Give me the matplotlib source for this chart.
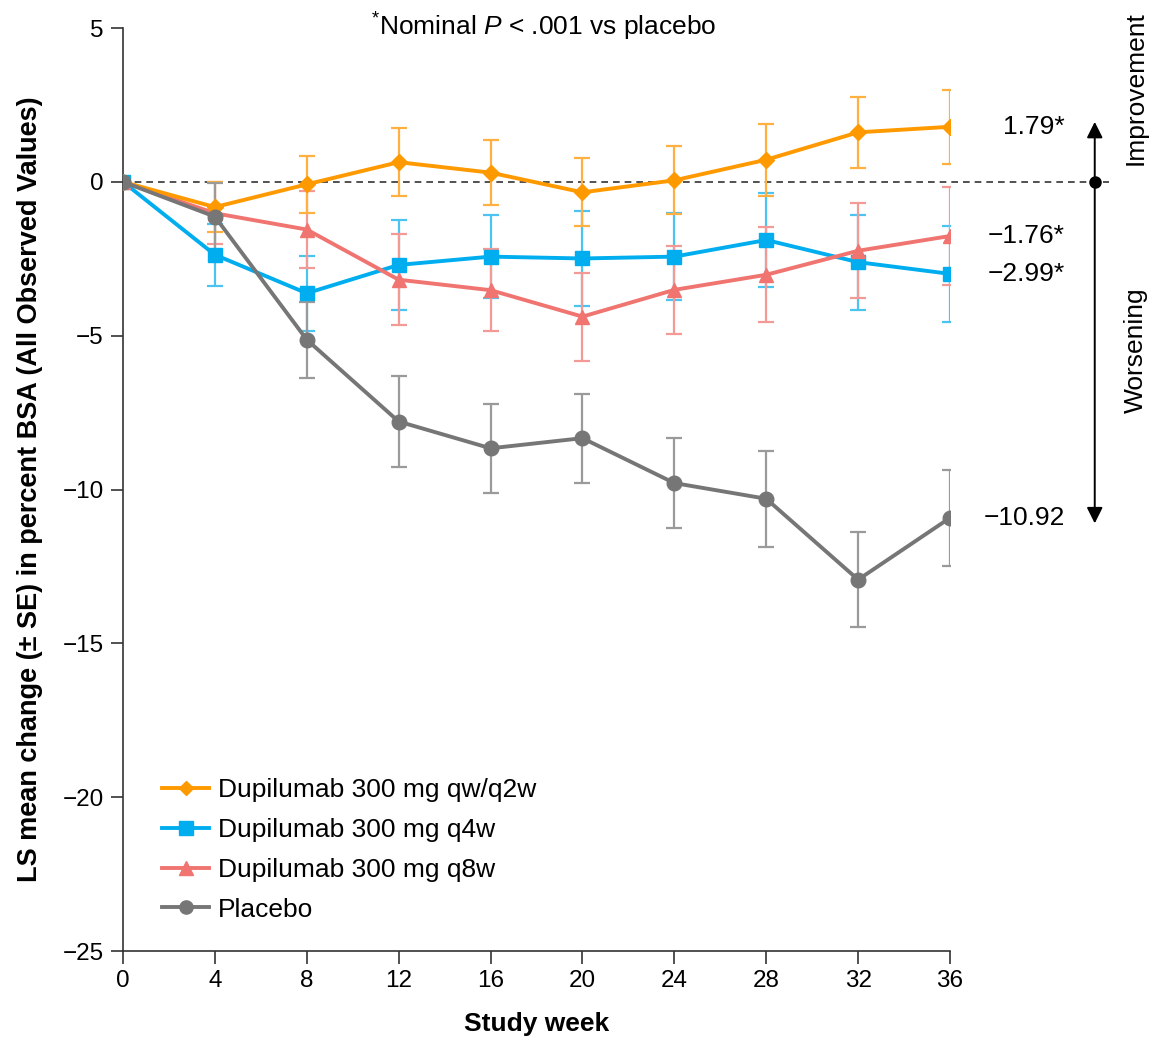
import matplotlib
matplotlib.use("Agg")
import matplotlib.pyplot as plt
from matplotlib.lines import Line2D

plt.rcParams['font.family'] = ['Liberation Sans', 'DejaVu Sans']
plt.rcParams['mathtext.fontset'] = 'custom'
plt.rcParams['mathtext.rm'] = 'Liberation Sans'
plt.rcParams['mathtext.it'] = 'Liberation Sans:italic'

# Study weeks
weeks = [0, 4, 8, 12, 16, 20, 24, 28, 32, 36]

# LS mean change and SE per arm
qw_q2w = [0, -0.82, -0.08, 0.64, 0.30, -0.34, 0.05, 0.72, 1.61, 1.79]
qw_q2w_se = [0, 0.80, 0.93, 1.10, 1.05, 1.10, 1.10, 1.17, 1.15, 1.20]

q4w = [0, -2.37, -3.62, -2.70, -2.43, -2.49, -2.43, -1.89, -2.61, -2.99]
q4w_se = [0, 1.00, 1.22, 1.45, 1.35, 1.53, 1.42, 1.52, 1.54, 1.55]

q8w = [0, -1.02, -1.55, -3.18, -3.52, -4.38, -3.51, -3.02, -2.24, -1.76]
q8w_se = [0, 1.00, 1.24, 1.47, 1.33, 1.43, 1.43, 1.55, 1.55, 1.59]

placebo = [0, -1.13, -5.13, -7.79, -8.66, -8.33, -9.79, -10.30, -12.93, -10.92]
placebo_se = [0, 1.08, 1.24, 1.48, 1.44, 1.45, 1.47, 1.56, 1.55, 1.56]

series_names = ["Dupilumab 300 mg qw/q2w", "Dupilumab 300 mg q4w",
                "Dupilumab 300 mg q8w", "Placebo"]
end_labels = ["1.79*", "\u22121.76*", "\u22122.99*", "\u221210.92"]
end_values = [1.79, -1.76, -2.99, -10.92]

colors = ["#FF9900", "#00AEEF", "#F07470", "#767676"]
err_colors = ["#FFB040", "#4CC4F2", "#F49A96", "#9A9A9A"]
markers = ["D", "s", "^", "o"]
msizes = [8.5, 10.5, 10.5, 10.5]

fig = plt.figure(figsize=(11.57, 10.46), dpi=100)
ax = fig.add_axes([0.1063, 0.0908, 0.7148, 0.8824])

data = [(qw_q2w, qw_q2w_se), (q4w, q4w_se), (q8w, q8w_se), (placebo, placebo_se)]
draw_order = [1, 2, 0, 3]
for k, i in enumerate(draw_order):
    vals, se = data[i]
    ax.errorbar(weeks, vals, yerr=se, fmt='none', ecolor=err_colors[i],
                elinewidth=1.6, capsize=6, capthick=1.6, zorder=2 + k)
    ax.plot(weeks, vals, color=colors[i], lw=2.8, marker=markers[i],
            markersize=msizes[i], zorder=6 + k)

# reference line at zero, runs past the axis to the arrow
ax.plot([0, 42.9], [0, 0], ls=(0, (4, 3)), color='#333333', lw=1.2,
        clip_on=False, zorder=1)

# values at week 36
for lab, v in zip(end_labels, end_values):
    ax.text(41.0, v, lab, ha='right', va='center', fontsize=19, clip_on=False)

# improvement / worsening arrow
ax.annotate("", xy=(42.3, 1.95), xytext=(42.3, 0), annotation_clip=False,
            arrowprops=dict(arrowstyle="-|>", color='black', lw=1.4,
                            mutation_scale=24, shrinkA=0, shrinkB=0))
ax.annotate("", xy=(42.3, -11.1), xytext=(42.3, 0), annotation_clip=False,
            arrowprops=dict(arrowstyle="-|>", color='black', lw=1.4,
                            mutation_scale=24, shrinkA=0, shrinkB=0))
ax.plot([42.3], [0], 'o', color='black', markersize=8, clip_on=False, zorder=10)
ax.text(44.1, 3.05, "Improvement", rotation=90, ha='center', va='center',
        fontsize=19, clip_on=False)
ax.text(44.1, -5.46, "Worsening", rotation=90, ha='center', va='center',
        fontsize=19, clip_on=False)

ax.text(18.3, 5.05, r"$^{*}$Nominal $\it{P}$ < .001 vs placebo", ha='center',
        va='center', fontsize=19)

ax.set_xlim(0, 36)
ax.set_ylim(-25, 5)
ax.set_xticks(weeks)
ax.set_yticks([-25, -20, -15, -10, -5, 0, 5])
ax.tick_params(direction='out', length=9, width=1.2, labelsize=17.5,
               color='#333333', pad=5)
for s in ['top', 'right']:
    ax.spines[s].set_visible(False)
for s in ['left', 'bottom']:
    ax.spines[s].set_color('#333333')
    ax.spines[s].set_linewidth(1.2)
ax.set_xlabel("Study week", fontsize=19, fontweight='bold', labelpad=14)
ax.set_ylabel("LS mean change (\u00b1 SE) in percent BSA (All Observed Values)",
              fontsize=19.5, fontweight='bold', labelpad=14)

handles = [Line2D([], [], color=colors[i], lw=2.8, marker=markers[i],
                  markersize=msizes[i] - 1) for i in range(4)]
ax.legend(handles, series_names, loc='lower left', bbox_to_anchor=(0.019, 0.006),
          frameon=False, fontsize=19, handlelength=1.75, labelspacing=0.6,
          handletextpad=0.35)

fig.savefig("out.png", dpi=100)
